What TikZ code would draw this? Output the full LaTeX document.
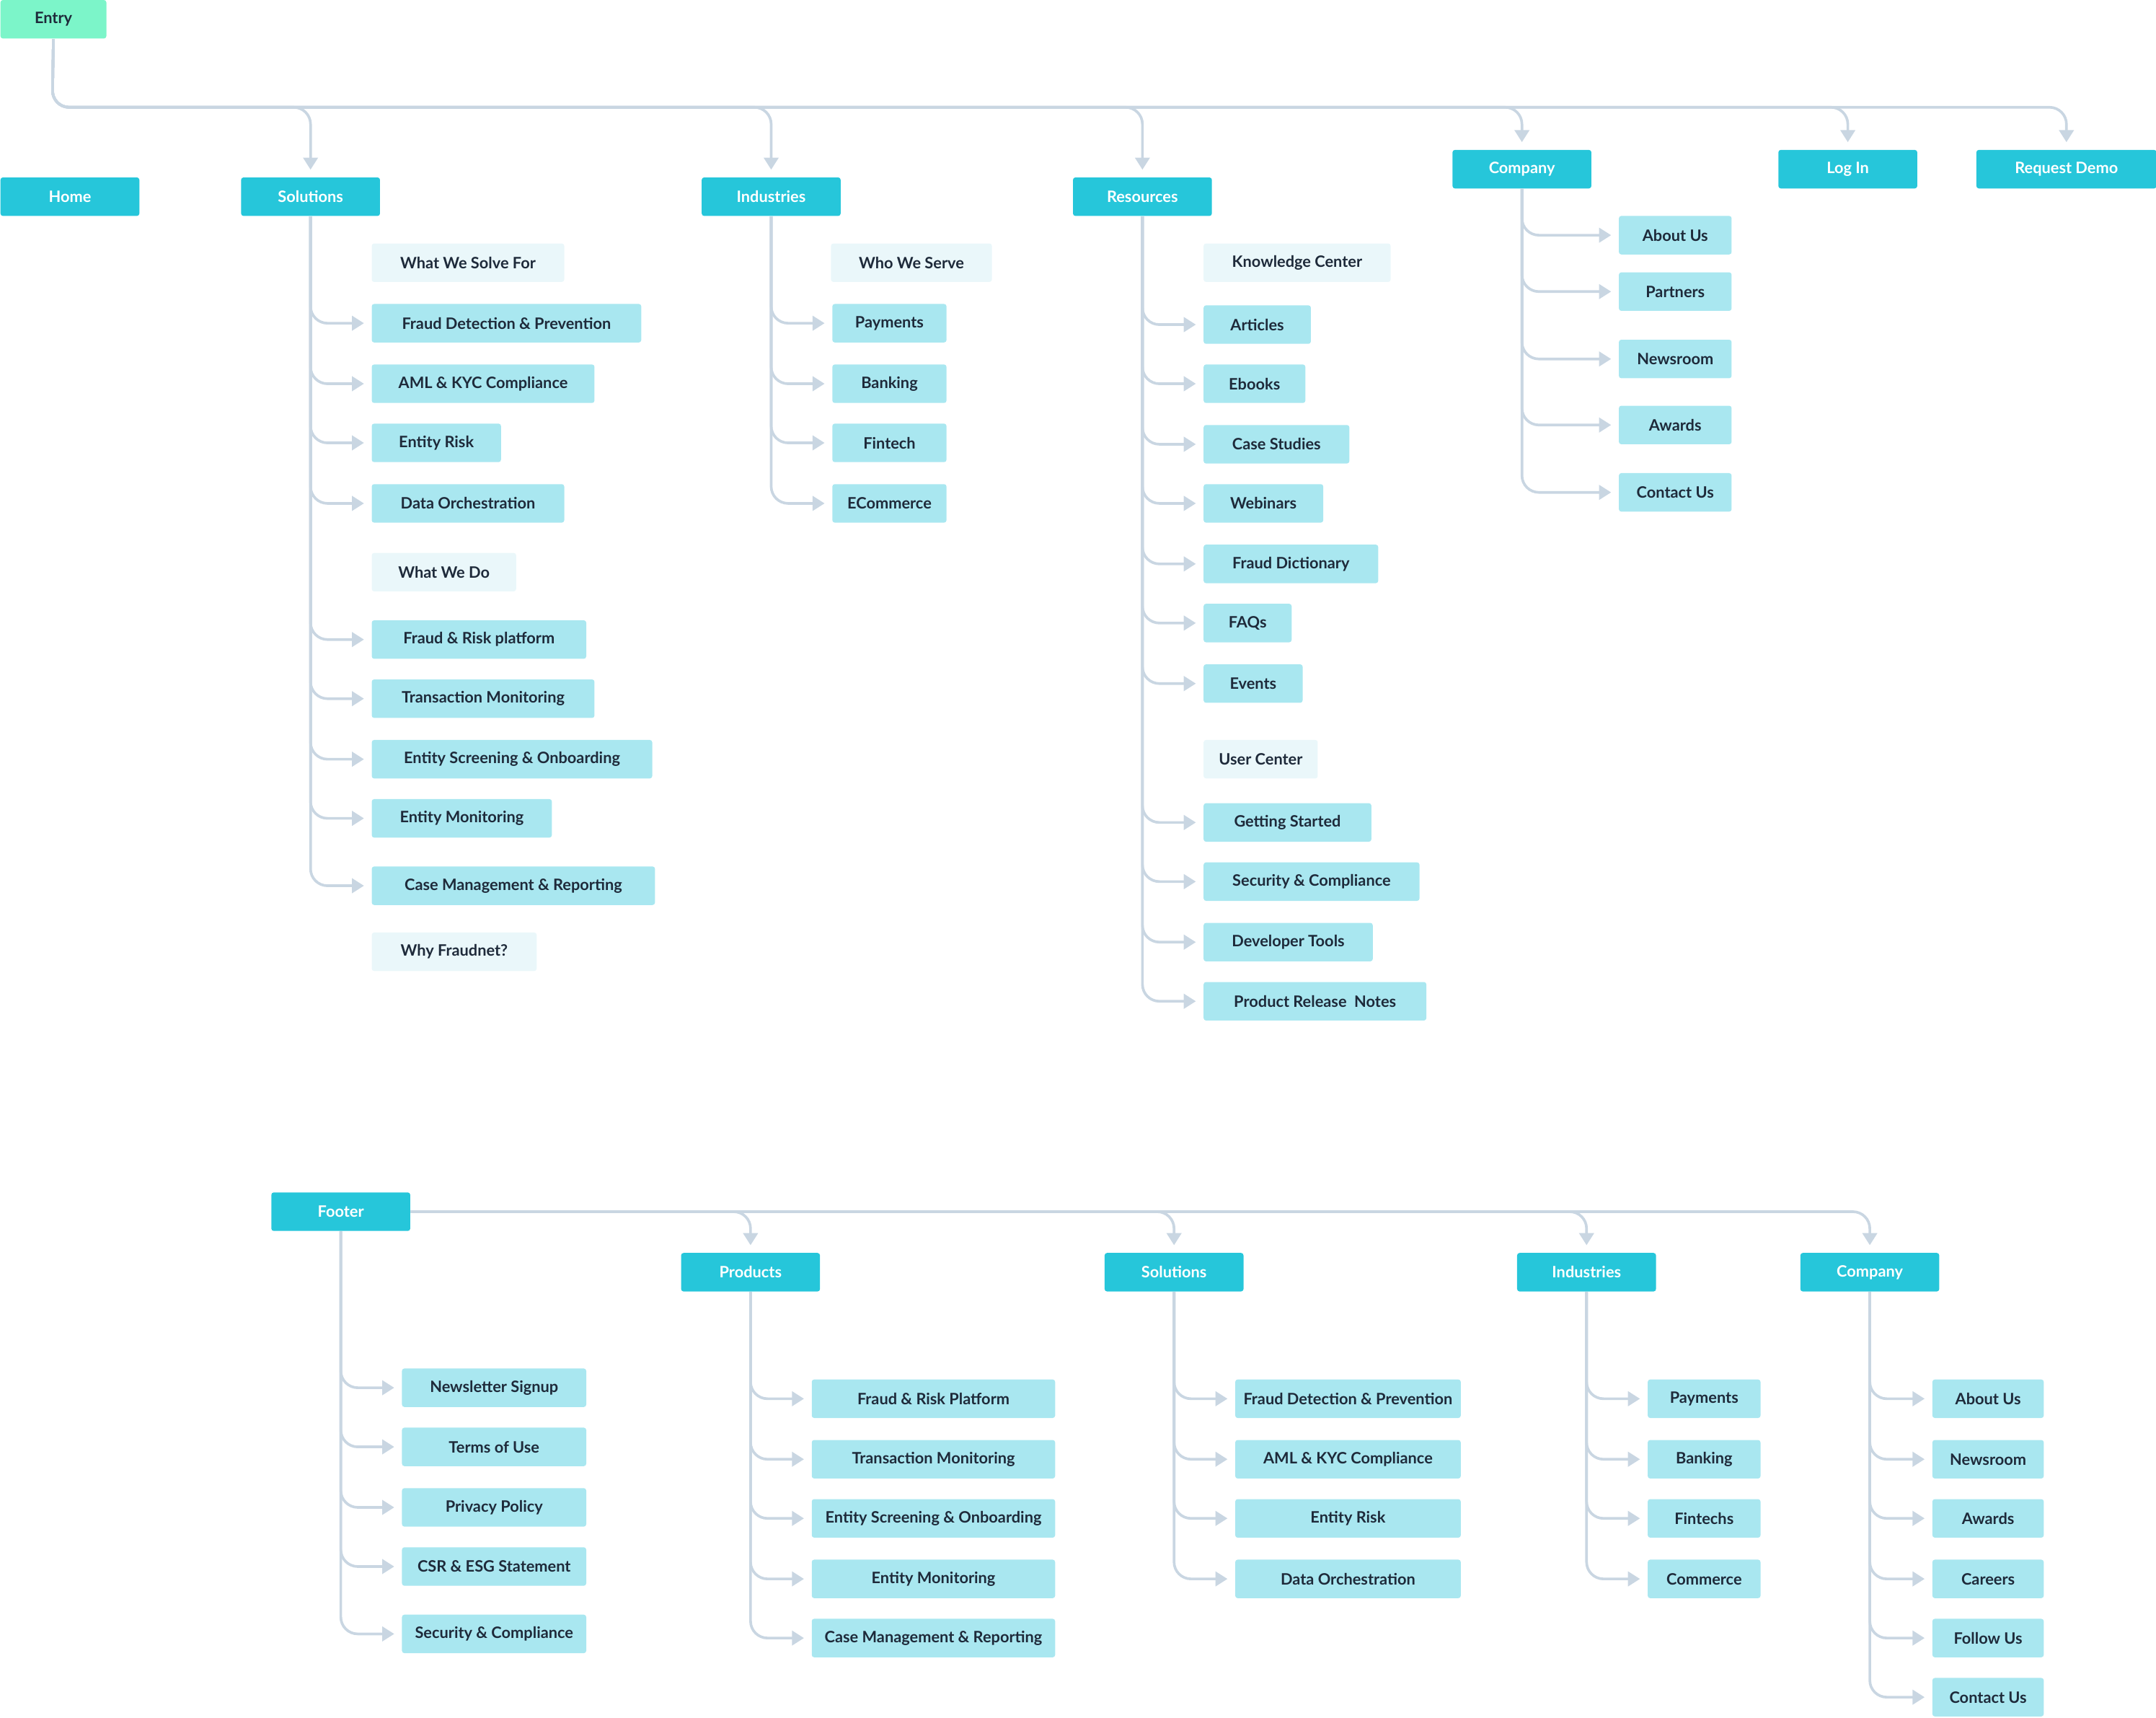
\documentclass[tikz,border=0pt]{standalone}
\usepackage{fontspec}
\setmainfont{Lato}
\usetikzlibrary{arrows.meta}
\definecolor{tealdark}{HTML}{26C6DA}
\definecolor{teallight}{HTML}{A9E7F0}
\definecolor{tealpale}{HTML}{EAF7FA}
\definecolor{entrygreen}{HTML}{7CF5C9}
\definecolor{linkgray}{HTML}{C9D6E2}
\definecolor{txtdark}{HTML}{1E2A3A}
\tikzset{
  box/.style={anchor=west,minimum height=28*0.02cm,inner sep=0pt,rounded corners=1pt,
    font=\fontsize{6.5}{8}\selectfont\bfseries},
  main/.style={box,fill=tealdark,text=white,minimum width=101*0.02cm},
  sub/.style={box,fill=teallight,text=txtdark},
  head/.style={box,fill=tealpale,text=txtdark},
  link/.style={draw=linkgray,line width=1.1pt,rounded corners=7pt,
    -{Triangle[length=5pt,width=6pt]},shorten >=3pt},
  trunk/.style={draw=linkgray,line width=1.1pt,rounded corners=7pt},
}
\begin{document}
\begin{tikzpicture}[x=0.02cm,y=-0.02cm]
\useasboundingbox (0,0) rectangle (1568,1249);

% top level
\node[box,fill=entrygreen,text=txtdark,minimum width=77*0.02cm] (entry) at (0,14) {Entry};
\node[main] (home) at (0,143) {Home};
\node[main] (sol) at (175,143) {Solutions};
\node[main] (ind) at (510,143) {Industries};
\node[main] (res) at (780,143) {Resources};
\node[main] (comp) at (1056,123) {Company};
\node[main] (login) at (1293,123) {Log In};
\node[main,minimum width=131*0.02cm] (demo) at (1437,123) {Request Demo};
\coordinate (trk) at (38,78);
\foreach \n in {sol,ind,res,comp,login,demo}
  \draw[link] (entry.south) -- (trk) -| (\n.north);

% solutions
\node[head,minimum width=140*0.02cm] (solh1) at (270,191) {What We Solve For};
\node[head,minimum width=105*0.02cm] (solh2) at (270,416) {What We Do};
\node[head,minimum width=120*0.02cm] (solh3) at (270,692) {Why Fraudnet?};
\foreach \t/\y/\w [count=\i] in {Fraud Detection \& Prevention/235/196,AML \& KYC Compliance/279/162,
  Entity Risk/322/94,Data Orchestration/366/140,Fraud \& Risk platform/465/156,
  Transaction Monitoring/508/162,Entity Screening \& Onboarding/552/204,
  Entity Monitoring/595/131,Case Management \& Reporting/644/206}{
  \node[sub,minimum width=\w*0.02cm] (sol\i) at (270,\y) {\t};
  \draw[link] (sol.south) |- (sol\i.west);
}

% industries
\node[head,minimum width=117*0.02cm] (indh) at (604,191) {Who We Serve};
\foreach \t/\y [count=\i] in {Payments/235,Banking/279,Fintech/322,ECommerce/366}{
  \node[sub,minimum width=83*0.02cm] (ind\i) at (605,\y) {\t};
  \draw[link] (ind.south) |- (ind\i.west);
}

% resources
\node[head,minimum width=136*0.02cm] (resh1) at (875,191) {Knowledge Center};
\node[head,minimum width=83*0.02cm] (resh2) at (875,552) {User Center};
\foreach \t/\y/\w [count=\i] in {Articles/236/78,Ebooks/279/74,Case Studies/323/106,
  Webinars/366/87,Fraud Dictionary/410/127,FAQs/453/64,Events/497/72,
  Getting Started/598/122,Security \& Compliance/641/157,Developer Tools/685/123,
  Product Release\ \ Notes/728/162}{
  \node[sub,minimum width=\w*0.02cm] (res\i) at (875,\y) {\t};
  \draw[link] (res.south) |- (res\i.west);
}

% company
\foreach \t/\y [count=\i] in {About Us/171,Partners/212,Newsroom/261,Awards/309,Contact Us/358}{
  \node[sub,minimum width=82*0.02cm] (comp\i) at (1177,\y) {\t};
  \draw[link] (comp.south) |- (comp\i.west);
}

% footer
\node[main] (foot) at (197,881) {Footer};
\node[main] (fprod) at (495,925) {Products};
\node[main] (fsol) at (803,925) {Solutions};
\node[main] (find) at (1103,925) {Industries};
\node[main] (fcomp) at (1309,925) {Company};
\foreach \n in {fprod,fsol,find,fcomp}
  \draw[link] (foot.east) -| (\n.north);

\foreach \t/\y [count=\i] in {Newsletter Signup/1009,Terms of Use/1052,Privacy Policy/1096,
  CSR \& ESG Statement/1139,Security \& Compliance/1188}{
  \node[sub,minimum width=134*0.02cm] (foot\i) at (292,\y) {\t};
  \draw[link] (foot.south) |- (foot\i.west);
}
\foreach \t/\y [count=\i] in {Fraud \& Risk Platform/1017,Transaction Monitoring/1061,
  Entity Screening \& Onboarding/1104,Entity Monitoring/1148,Case Management \& Reporting/1191}{
  \node[sub,minimum width=177*0.02cm] (fprod\i) at (590,\y) {\t};
  \draw[link] (fprod.south) |- (fprod\i.west);
}
\foreach \t/\y [count=\i] in {Fraud Detection \& Prevention/1017,AML \& KYC Compliance/1061,
  Entity Risk/1104,Data Orchestration/1148}{
  \node[sub,minimum width=164*0.02cm] (fsol\i) at (898,\y) {\t};
  \draw[link] (fsol.south) |- (fsol\i.west);
}
\foreach \t/\y [count=\i] in {Payments/1017,Banking/1061,Fintechs/1104,Commerce/1148}{
  \node[sub,minimum width=82*0.02cm] (find\i) at (1198,\y) {\t};
  \draw[link] (find.south) |- (find\i.west);
}
\foreach \t/\y [count=\i] in {About Us/1017,Newsroom/1061,Awards/1104,Careers/1148,
  Follow Us/1191,Contact Us/1234}{
  \node[sub,minimum width=81*0.02cm] (fcomp\i) at (1405,\y) {\t};
  \draw[link] (fcomp.south) |- (fcomp\i.west);
}
\end{tikzpicture}
\end{document}
